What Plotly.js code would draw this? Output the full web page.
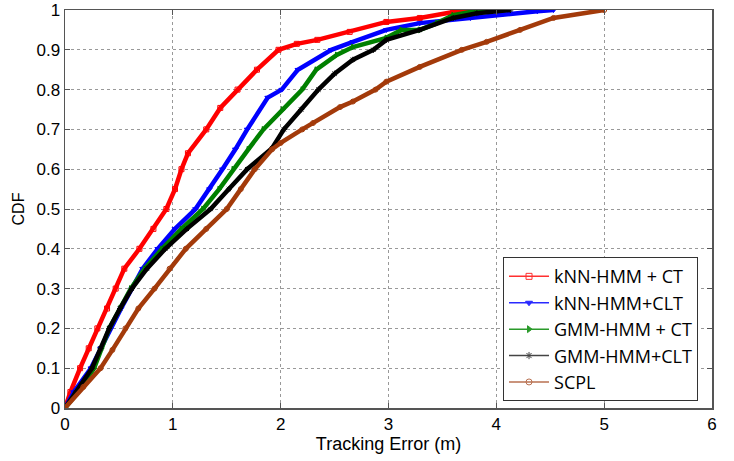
<!DOCTYPE html>
<html><head><meta charset="utf-8">
<script src="https://cdn.plot.ly/plotly-3.0.1.min.js"></script>
<style>body{margin:0;background:#fff}#c{width:734px;height:461px}</style>
</head><body><div id="c"></div>
<script>
// Tracking error (m) vs CDF
var seriesNames = ["kNN-HMM + CT", "kNN-HMM+CLT", "GMM-HMM + CT", "GMM-HMM+CLT", "SCPL"];

var knnCtX = [0, 0.05, 0.14, 0.22, 0.30, 0.39, 0.47, 0.55, 0.69, 0.82, 0.94, 1.02, 1.08, 1.14, 1.31, 1.44, 1.60, 1.78, 1.98, 2.15, 2.34, 2.64, 2.98, 3.29, 3.60, 3.80];
var knnCtY = [0, 0.04, 0.10, 0.15, 0.20, 0.25, 0.30, 0.35, 0.40, 0.45, 0.50, 0.55, 0.60, 0.64, 0.70, 0.754, 0.80, 0.85, 0.90, 0.915, 0.925, 0.945, 0.97, 0.98, 0.995, 1.0];

var knnCltX = [0, 0.08, 0.24, 0.33, 0.42, 0.52, 0.62, 0.72, 0.86, 1.02, 1.21, 1.34, 1.46, 1.58, 1.69, 1.88, 2.01, 2.16, 2.47, 2.67, 2.98, 3.29, 3.76, 4.06, 4.38, 4.53];
var knnCltY = [0, 0.04, 0.10, 0.15, 0.20, 0.25, 0.30, 0.35, 0.40, 0.45, 0.50, 0.55, 0.60, 0.65, 0.70, 0.78, 0.80, 0.85, 0.90, 0.92, 0.95, 0.967, 0.98, 0.99, 0.997, 1.0];

var gmmCtX = [0, 0.12, 0.27, 0.34, 0.41, 0.51, 0.61, 0.74, 0.90, 1.08, 1.28, 1.43, 1.56, 1.70, 1.84, 2.02, 2.20, 2.33, 2.52, 2.67, 2.98, 3.12, 3.29, 3.45, 3.60, 3.76, 4.02];
var gmmCtY = [0, 0.04, 0.10, 0.15, 0.20, 0.25, 0.30, 0.35, 0.40, 0.45, 0.50, 0.55, 0.60, 0.65, 0.70, 0.75, 0.80, 0.85, 0.887, 0.907, 0.93, 0.95, 0.95, 0.967, 0.987, 0.995, 1.0];

var gmmCltX = [0, 0.10, 0.25, 0.33, 0.41, 0.51, 0.62, 0.76, 0.93, 1.13, 1.35, 1.52, 1.69, 1.92, 2.03, 2.19, 2.35, 2.50, 2.67, 2.86, 2.98, 3.29, 3.60, 3.82, 4.13];
var gmmCltY = [0, 0.04, 0.10, 0.15, 0.20, 0.25, 0.30, 0.35, 0.40, 0.45, 0.50, 0.55, 0.60, 0.653, 0.70, 0.75, 0.80, 0.84, 0.875, 0.90, 0.925, 0.95, 0.98, 0.992, 1.0];

var scplX = [0, 0.17, 0.33, 0.44, 0.56, 0.68, 0.83, 0.97, 1.12, 1.31, 1.50, 1.63, 1.76, 1.92, 2.00, 2.20, 2.30, 2.55, 2.67, 2.88, 2.98, 3.29, 3.68, 3.91, 4.22, 4.53, 5.00];
var scplY = [0, 0.053, 0.10, 0.146, 0.20, 0.25, 0.30, 0.35, 0.40, 0.45, 0.50, 0.55, 0.60, 0.65, 0.666, 0.70, 0.716, 0.756, 0.77, 0.80, 0.82, 0.857, 0.90, 0.92, 0.95, 0.98, 1.0];

var xTicks = [0, 1, 2, 3, 4, 5, 6];
var yTicks = [0, 0.1, 0.2, 0.3, 0.4, 0.5, 0.6, 0.7, 0.8, 0.9, 1];
var yTickText = ["0", "0.1", "0.2", "0.3", "0.4", "0.5", "0.6", "0.7", "0.8", "0.9", "1"];

var colors = ["#ff0000", "#0000ff", "#008000", "#000000", "#a33a0a"];
var legendColors = ["#ff3030", "#2a2aff", "#2a9a2a", "#444444", "#b87050"];
var symbols = ["square-open", "triangle-down", "triangle-right", "asterisk-open", "circle-open"];
var xs = [knnCtX, knnCltX, gmmCtX, gmmCltX, scplX];
var ys = [knnCtY, knnCltY, gmmCtY, gmmCltY, scplY];

var traces = seriesNames.map(function(n, i){
  return {x: xs[i], y: ys[i], name: n, type: "scatter", mode: "lines+markers",
    showlegend: false,
    line: {color: colors[i], width: 4.5},
    marker: {symbol: symbols[i], size: 5, color: colors[i], line: {color: colors[i], width: 1}}};
});
// legend-only entries (thin line + marker, like the reference legend)
seriesNames.forEach(function(n, i){
  traces.push({x: [null], y: [null], name: n, type: "scatter", mode: "lines+markers",
    line: {color: legendColors[i], width: 1.5},
    marker: {symbol: symbols[i], size: 6, color: legendColors[i], line: {color: legendColors[i], width: 1}}});
});

var layout = {
  width: 734, height: 461,
  margin: {l: 65, r: 22, t: 10, b: 53},
  paper_bgcolor: "#fff", plot_bgcolor: "#fff",
  font: {family: "Liberation Sans, Arial, sans-serif", size: 17, color: "#000"},
  showlegend: true,
  legend: {x: 0.677, y: 0.379, xanchor: "left", yanchor: "top",
    bgcolor: "#fff", bordercolor: "#333", borderwidth: 1,
    font: {family: "Open Sans, sans-serif", size: 18, color: "#000"},
    tracegroupgap: 0, itemwidth: 40},
  xaxis: {range: [0, 6], tickvals: xTicks, ticktext: xTicks.map(String),
    showgrid: true, gridcolor: "#999", griddash: "dot", gridwidth: 1,
    zeroline: false, showline: true, linecolor: "#555", linewidth: 1.5, mirror: "ticks",
    ticks: "inside", ticklen: 5, tickcolor: "#555",
    tickfont: {size: 17},
    title: {text: "Tracking Error (m)", font: {size: 18}, standoff: 4}},
  yaxis: {range: [0, 1], tickvals: yTicks, ticktext: yTickText,
    showgrid: true, gridcolor: "#999", griddash: "dot", gridwidth: 1,
    zeroline: false, showline: true, linecolor: "#555", linewidth: 1.5, mirror: "ticks",
    ticks: "inside", ticklen: 5, tickcolor: "#555",
    tickfont: {size: 17},
    title: {text: "CDF", font: {size: 16}, standoff: 8}}
};

Plotly.newPlot("c", traces, layout, {displayModeBar: false, staticPlot: true});
</script></body></html>
